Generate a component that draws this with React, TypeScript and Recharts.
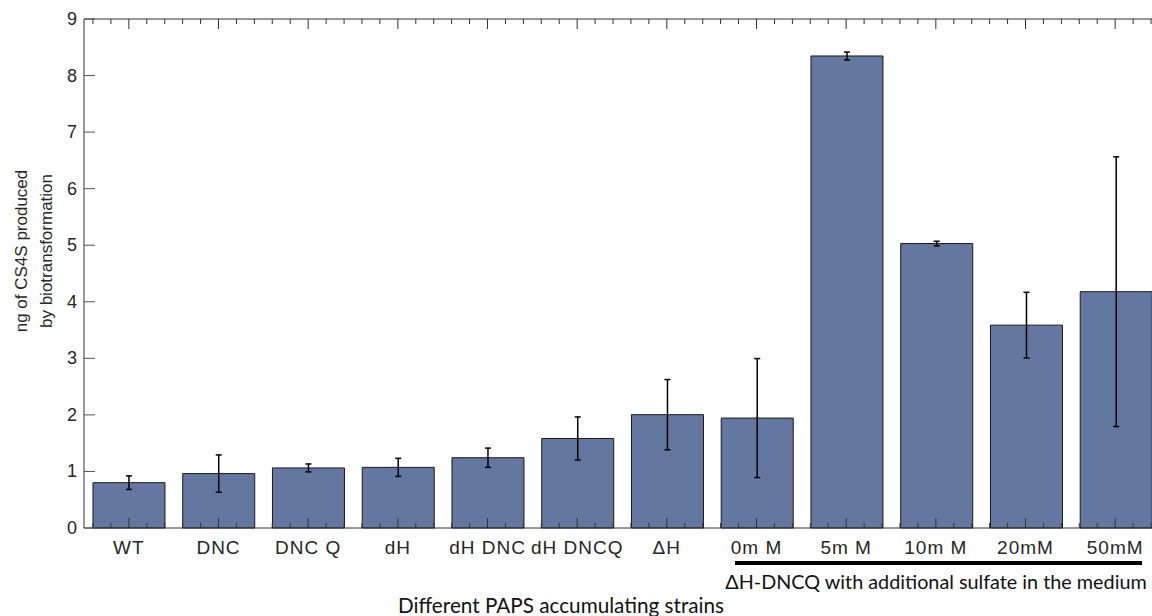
import React from 'react';
import { BarChart, Bar, XAxis, YAxis, ErrorBar } from 'recharts';

const strains = ['WT', 'DNC', 'DNC Q', 'dH', 'dH  DNC', 'dH  DNCQ', '\u0394H', '0m M', '5m M', '10m M', '20mM', '50mM'];
const means = [0.8, 0.96, 1.06, 1.07, 1.24, 1.58, 2.0, 1.94, 8.33, 5.02, 3.58, 4.17];
const errors = [0.12, 0.33, 0.07, 0.16, 0.17, 0.38, 0.62, 1.05, 0.07, 0.04, 0.58, 2.38];
const yTicks = [0, 1, 2, 3, 4, 5, 6, 7, 8, 9];

const data = strains.map((name, i) => ({ name, value: means[i], err: errors[i] }));

const CHART_W = 1161;
const CHART_H = 616;
const Y_AXIS_W = 84;
const X_AXIS_H = 88;
const MARGIN = { top: 18, right: 0, bottom: 0, left: 0 };
const BAND = (CHART_W - Y_AXIS_W) / strains.length;
const AXIS_COLOR = '#333';
const TEXT_COLOR = '#262626';
const FONT = '"Liberation Sans", Arial, Helvetica, sans-serif';
const NOTE_FONT = 'Lato, "Open Sans", sans-serif';

// ticks every 0.2 band, longer one at the bar centre
const tickMarks = (x: number, y: number, dir: number) =>
    [-2, -1, 0, 1, 2].map((k) => (
        <line
            key={k}
            x1={x + k * 0.2 * BAND}
            x2={x + k * 0.2 * BAND}
            y1={y}
            y2={y + dir * (k === 0 ? 10 : 5)}
            stroke={AXIS_COLOR}
            strokeWidth={1}
        />
    ));

const bottomTick = ({ x, y, payload }: any) => (
    <g>
        {tickMarks(x, y, -1)}
        <text
            x={x}
            y={y + 26}
            textAnchor="middle"
            fill={TEXT_COLOR}
            fontFamily={FONT}
            fontSize={19}
            letterSpacing={1}
        >
            {payload.value}
        </text>
    </g>
);

const topTick = ({ x, y }: any) => <g>{tickMarks(x, y, 1)}</g>;

const leftTick = ({ x, y, payload }: any) => (
    <g>
        <line x1={x} x2={x + 11} y1={y} y2={y} stroke="#555" strokeWidth={1} />
        <text
            x={x - 7}
            y={y + 6}
            textAnchor="end"
            fill={TEXT_COLOR}
            fontFamily={FONT}
            fontSize={18}
        >
            {payload.value}
        </text>
    </g>
);

const rightTick = ({ x, y }: any) => (
    <line x1={x} x2={x - 11} y1={y} y2={y} stroke="#555" strokeWidth={1} />
);

const layer: React.CSSProperties = { position: 'absolute', left: 0, top: 0 };

export default function App() {
    return (
        <div
            style={{
                position: 'absolute',
                left: 0,
                top: 0,
                width: 1152,
                height: 616,
                overflow: 'hidden',
                background: '#fff',
            }}
        >
            {/* bars */}
            <div style={layer}>
                <BarChart width={CHART_W} height={CHART_H} data={data} margin={MARGIN} barCategoryGap="10%">
                    <XAxis xAxisId="b" dataKey="name" height={X_AXIS_H} tick={false} axisLine={false} tickLine={false} />
                    <YAxis yAxisId="l" width={Y_AXIS_W} domain={[0, 9]} ticks={yTicks} tick={false} axisLine={false} tickLine={false} />
                    <Bar
                        dataKey="value"
                        xAxisId="b"
                        yAxisId="l"
                        fill="#6377a0"
                        stroke="#1a1a1a"
                        strokeWidth={1}
                        isAnimationActive={false}
                    >
                        <ErrorBar
                            dataKey="err"
                            direction="y"
                            width={3}
                            stroke="#000"
                            strokeWidth={1.5}
                            isAnimationActive={false}
                        />
                    </Bar>
                </BarChart>
            </div>

            {/* axes box and ticks drawn over the bars */}
            <div style={layer}>
                <BarChart width={CHART_W} height={CHART_H} data={data} margin={MARGIN} barCategoryGap="10%">
                    <XAxis
                        xAxisId="b"
                        dataKey="name"
                        height={X_AXIS_H}
                        interval={0}
                        tickSize={0}
                        tickMargin={0}
                        tick={bottomTick}
                        axisLine={{ stroke: AXIS_COLOR, strokeWidth: 1 }}
                        tickLine={false}
                    />
                    <XAxis
                        xAxisId="t"
                        dataKey="name"
                        orientation="top"
                        height={1}
                        interval={0}
                        tickSize={0}
                        tickMargin={0}
                        tick={topTick}
                        axisLine={{ stroke: AXIS_COLOR, strokeWidth: 1 }}
                        tickLine={false}
                    />
                    <YAxis
                        yAxisId="l"
                        width={Y_AXIS_W}
                        domain={[0, 9]}
                        ticks={yTicks}
                        interval={0}
                        tickSize={0}
                        tickMargin={0}
                        tick={leftTick}
                        axisLine={{ stroke: AXIS_COLOR, strokeWidth: 1 }}
                        tickLine={false}
                    />
                    <YAxis
                        yAxisId="r"
                        orientation="right"
                        width={1}
                        domain={[0, 9]}
                        ticks={yTicks}
                        interval={0}
                        tickSize={0}
                        tickMargin={0}
                        tick={rightTick}
                        axisLine={{ stroke: AXIS_COLOR, strokeWidth: 1 }}
                        tickLine={false}
                    />
                    <Bar
                        dataKey="value"
                        xAxisId="b"
                        yAxisId="l"
                        fill="none"
                        stroke="none"
                        isAnimationActive={false}
                    />
                </BarChart>
            </div>

            {/* y axis title, two lines */}
            <div
                style={{
                    position: 'absolute',
                    left: 34,
                    top: 251,
                    transform: 'translate(-50%, -50%) rotate(-90deg)',
                    fontFamily: FONT,
                    fontSize: 17,
                    lineHeight: '25px',
                    color: TEXT_COLOR,
                    textAlign: 'center',
                    whiteSpace: 'nowrap',
                }}
            >
                <div>ng of CS4S produced</div>
                <div>by biotransformation</div>
            </div>

            {/* group bracket under the sulfate bars */}
            <div
                style={{
                    position: 'absolute',
                    left: 735,
                    top: 561,
                    width: 407,
                    height: 4,
                    background: '#000',
                }}
            />
            <div
                style={{
                    position: 'absolute',
                    left: 936,
                    top: 581,
                    transform: 'translate(-50%, -50%)',
                    fontFamily: NOTE_FONT,
                    fontSize: 19.8,
                    color: '#111',
                    whiteSpace: 'nowrap',
                }}
            >
                {'\u0394H-DNCQ with additional sulfate in the medium'}
            </div>
            <div
                style={{
                    position: 'absolute',
                    left: 561,
                    top: 605,
                    transform: 'translate(-50%, -50%)',
                    fontFamily: NOTE_FONT,
                    fontSize: 20.7,
                    color: '#111',
                    whiteSpace: 'nowrap',
                }}
            >
                Different PAPS accumulating strains
            </div>
        </div>
    );
}
